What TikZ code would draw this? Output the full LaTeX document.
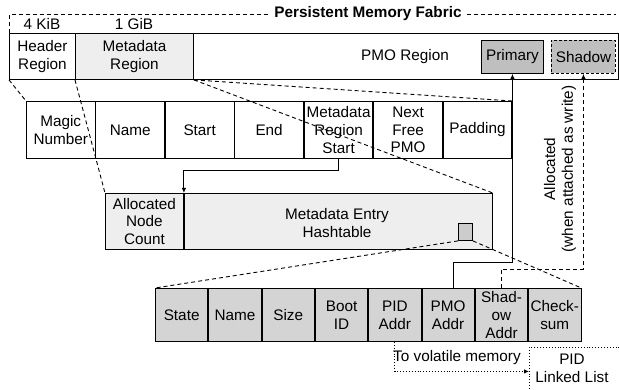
\documentclass[tikz,border=0pt]{standalone}
\usepackage{fontspec}
\setmainfont{Liberation Sans}
\usetikzlibrary{arrows.meta,calc}
\definecolor{lightfill}{HTML}{EEEEEE}
\definecolor{entryfill}{HTML}{D4D4D4}
\definecolor{pmofill}{HTML}{BFBFBF}
\definecolor{smallfill}{HTML}{CCCCCC}
\newcommand{\myfs}{\fontsize{15.3}{17.8}\selectfont}
\begin{document}
\begin{tikzpicture}[x=1pt,y=-1pt,
  box/.style={draw, line width=0.9pt, anchor=north west, inner sep=0pt, align=center, font=\myfs},
  fieldA/.style={box, minimum width=68.57pt, minimum height=57pt},
  fieldB/.style={box, fill=entryfill, minimum width=52.4pt, minimum height=53pt},
  lbl/.style={inner sep=0pt, align=center, font=\myfs},
  dz/.style={line width=0.9pt, dash pattern=on 4pt off 3pt},
  arr/.style={-{Latex[length=5pt,width=4.5pt]}, line width=0.9pt}]
\useasboundingbox (0,0) rectangle (619,390);
\clip (0,0) rectangle (619,390);
% top row
\node[box, minimum width=66pt, minimum height=46pt] (header) at (9,33) {Header\\Region};
\node[box, fill=lightfill, minimum width=118pt, minimum height=46pt] (meta) at (75,33) {Metadata\\Region};
\node[box, minimum width=425pt, minimum height=46pt] (pmoreg) at (193,33) {};
\node[lbl] (pmotxt) at (405,57) {PMO Region};
\node[box, fill=pmofill, minimum width=62pt, minimum height=33pt] (primary) at (481,40) {Primary};
\node[box, fill=pmofill, dash pattern=on 3pt off 2pt, minimum width=64pt, minimum height=33pt] (shadow) at (551,40) {Shadow};
\node[lbl] (kib) at (42,24) {4 KiB};
\node[lbl] (gib) at (134,24) {1 GiB};
% frame
\draw[dz] (9.5,33) -- (9.5,14) coordinate (fl) -- (616,14) coordinate (fr);
\node[lbl, fill=white, inner xsep=4pt, inner ysep=2pt, font=\myfs\bfseries] (fabric) at (368,14) {Persistent Memory Fabric};
% header fields
\node[fieldA] (magic) at (26,101) {Magic\\Number};
\node[fieldA] (name) at (magic.north east) {Name};
\node[fieldA] (start) at (name.north east) {Start};
\node[fieldA] (end) at (start.north east) {End};
\node[fieldA] (mrs) at (end.north east) {Metadata\\Region\\Start};
\node[fieldA] (nfp) at (mrs.north east) {Next\\Free\\PMO};
\node[fieldA] (padding) at (nfp.north east) {Padding};
% hashtable row
\node[box, fill=lightfill, minimum width=78pt, minimum height=56pt] (anc) at (105,193) {Allocated\\Node\\Count};
\node[box, fill=lightfill, minimum width=308pt, minimum height=56pt] (hash) at (anc.north east) {};
\node[lbl] (hashtxt) at (337,223) {Metadata Entry\\Hashtable};
\node[box, fill=smallfill, minimum width=14pt, minimum height=17pt] (small) at (458,223) {};
% entry row
\node[fieldB] (state) at (155,288) {State};
\node[fieldB] (ename) at (state.north east) {Name};
\node[fieldB] (size) at (ename.north east) {Size};
\node[fieldB] (boot) at (size.north east) {Boot\\ID};
\node[fieldB] (pidaddr) at (boot.north east) {PID\\Addr};
\node[fieldB] (pmoaddr) at (pidaddr.north east) {PMO\\Addr};
\node[fieldB] (shadaddr) at (pmoaddr.north east) {Shad-\\ow\\Addr};
\node[fieldB] (checksum) at (shadaddr.north east) {Check-\\sum};
% PID list
\node[box, dotted, minimum width=92pt, minimum height=48pt] (pidlist) at (529,347) {};
\node[lbl] (pidtxt) at (572,368) {PID\\Linked List};
\node[lbl] (voltxt) at (457,358) {To volatile memory};
% zoom lines
\draw[dz] (header.south west) -- (magic.north west);
\draw[dz] (meta.south east) -- (padding.north east);
\draw[dz] (meta.south west) -- (anc.north west);
\draw[dz] (meta.south east) -- (hash.north east);
\draw[dz] (small.south west) -- (state.north west);
\draw[dz] (small.south east) -- (checksum.north east);
% connectors
\draw[arr] (mrs.south) |- (hash.north west |- 0,170) -- (hash.north west);
\draw[arr] ([xshift=5pt]pmoaddr.north) |- (primary.south |- 0,262) -- (primary.south);
\draw[arr, dash pattern=on 4pt off 3pt] (shadaddr.north) |- (shadow.south |- 0,269) -- (shadow.south);
\draw[arr, dotted] (pidaddr.south) |- (pidlist.west);
\node[lbl, rotate=90] (alloc) at (560,169) {Allocated\\(when attached as write)};
\end{tikzpicture}
\end{document}
